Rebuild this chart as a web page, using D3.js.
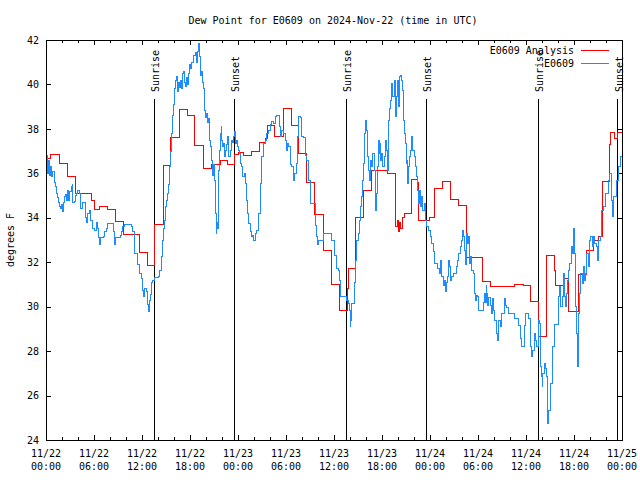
<!DOCTYPE html>
<html><head><meta charset="utf-8">
<script src="https://cdn.jsdelivr.net/npm/d3@7"></script>
<style>
body{margin:0;background:#fff}
svg{display:block}
text{font-family:"DejaVu Sans Mono",monospace;font-size:10px;fill:#000}
</style>
</head><body>
<svg id="chart" width="640" height="480"></svg>
<script>
// ---------------- data ----------------
const chartTitle = "Dew Point for E0609 on 2024-Nov-22 (time in UTC)";
const yAxisLabel = "degrees F";
const seriesNames = ["E0609 Analysis", "E0609"];
const seriesColors = ["#ff0000", "#1e8cff"];
const startUTC = Date.UTC(2024, 10, 22, 0, 0);
const endUTC = Date.UTC(2024, 10, 25, 0, 0);
const yTickValues = [24, 26, 28, 30, 32, 34, 36, 38, 40, 42];
// [label, hours after start]
const sunEvents = [["Sunrise", 13.55], ["Sunset", 23.55], ["Sunrise", 37.56], ["Sunset", 47.54], ["Sunrise", 61.56], ["Sunset", 71.47]];

// analysis (hours after start, deg F)
const analysis = [[0,36.68],[0.62,36.86],[1.67,36.45],[2.7,35.88],[3.67,35.1],[5.7,34.76],[6.04,34.38],[6.67,34.5],[7.7,34.38],[8.67,33.83],[9.7,33.23],[11.67,32.46],[12.7,31.86],[13.6,33.7],[14.67,36.36],[15.5,37.62],[16.67,38.88],[17.7,38.6],[18.55,37.26],[19.7,36.23],[20.7,36.39],[21.75,36.6],[22.7,36.39],[23.6,36.85],[24.05,36.93],[24.67,36.8],[25.7,37.0],[26.67,37.39],[27.4,37.55],[27.67,38.16],[28.6,37.67],[29.67,38.93],[30.7,38.15],[31.6,36.9],[32.6,35.6],[33.6,34.17],[34.67,32.55],[35.7,30.98],[36.63,29.85],[37.67,30.83],[37.75,31.73],[38.7,34.0],[39.67,35.25],[40.67,36.15],[42.67,36.0],[43.7,33.63],[43.9,33.9],[44.05,33.4],[44.2,33.8],[44.35,33.5],[44.5,34.0],[44.75,34.2],[45.7,35.73],[46.4,35.6],[46.6,33.9],[47.9,34.0],[48.5,35.33],[49.55,35.62],[50.6,34.83],[51.6,34.55],[52.55,32.2],[54.55,31.15],[55.6,30.93],[58.55,31.0],[59.67,30.97],[60.6,30.25],[61.52,28.68],[62.6,32.3],[63.55,31.65],[63.65,30.97],[64.75,31.28],[65.3,29.8],[66.55,31.43],[67.5,32.52],[68.4,33.0],[69.0,33.15],[69.55,35.63],[70.4,37.3],[70.55,37.83],[71.1,37.58],[71.45,37.83],[72,37.83]];

// observations, one array per day (hours after start, deg F)
const obsDay1 = [[0,36.4],[0.08,36.8],[0.21,36.0],[0.33,36.6],[0.46,35.9],[0.58,36.3],[0.71,35.85],[0.83,36.1],[1.0,35.6],[1.17,35.4],[1.33,35.1],[1.46,34.9],[1.58,34.7],[1.71,34.5],[1.83,34.4],[1.96,34.6],[2.08,34.3],[2.21,34.7],[2.33,34.95],[2.46,35.05],[2.58,34.8],[2.71,35.25],[2.83,34.8],[2.96,35.2],[3.13,35.4],[3.25,35.5],[3.33,34.7],[3.5,34.75],[3.67,35.0],[3.83,35.1],[3.96,35.25],[4.17,35.1],[4.33,34.4],[4.5,34.7],[4.75,34.7],[4.92,34.0],[5.04,33.8],[5.21,34.2],[5.42,34.35],[5.58,33.9],[5.75,33.5],[6.08,33.45],[6.25,33.8],[6.42,33.5],[6.58,33.1],[6.67,32.8],[6.79,33.1],[7.17,33.15],[7.29,33.4],[7.5,33.5],[7.67,33.75],[8.33,33.75],[8.46,33.4],[8.54,32.8],[8.67,33.1],[9.25,33.2],[9.42,33.4],[9.58,33.6],[9.75,33.7],[10.67,33.6],[10.83,33.4],[11.0,32.4],[11.42,31.9],[11.67,31.5],[11.92,31.25],[12.08,30.75],[12.17,30.45],[12.25,30.8],[12.5,30.7],[12.71,30.1],[12.79,29.8],[12.92,30.3],[13.04,30.55],[13.17,31.1],[13.33,31.2],[13.54,31.3],[14.08,31.35],[14.17,31.65],[14.38,32.25],[14.5,32.7],[14.58,33.0],[14.71,33.5],[14.79,33.9],[14.92,34.5],[15.0,34.8],[15.13,35.1],[15.25,35.5],[15.38,36.3],[15.5,37.0],[15.63,37.8],[15.75,38.6],[15.88,39.1],[16.0,39.8],[16.13,40.2],[16.25,40.35],[16.38,39.7],[16.5,40.1],[16.63,39.85],[16.75,40.2],[16.88,39.8],[17.0,40.5],[17.13,40.6],[17.25,40.1],[17.38,39.9],[17.5,40.3],[17.63,40.0],[17.75,40.5],[17.88,40.9],[18.0,40.7],[18.21,41.0],[18.42,41.3],[18.63,41.45],[18.83,41.0],[18.92,41.5],[19.04,41.85],[19.17,41.25],[19.25,40.4],[19.38,40.6],[19.5,40.1],[19.67,39.8],[19.79,38.85],[19.92,38.5],[20.08,38.7],[20.21,38.3],[20.33,38.45],[20.42,37.5],[20.58,37.2],[20.71,36.6],[20.83,35.9],[20.92,36.4],[21.04,35.7],[21.17,34.2],[21.25,33.3],[21.33,33.8],[21.42,33.5],[21.54,36.15],[21.67,37.05],[21.75,37.8],[21.88,38.1],[21.96,37.5],[22.08,37.2],[22.21,37.35],[22.33,36.75],[22.46,37.05],[22.58,37.3],[22.71,37.65],[22.83,36.75],[23.0,37.05],[23.13,37.5],[23.25,37.4],[23.42,37.65],[23.54,37.9],[23.63,37.35],[23.75,37.5],[23.92,37.2]];
const obsDay2 = [[24.04,37.05],[24.17,36.9],[24.25,36.8],[24.33,36.45],[24.46,36.3],[24.58,35.85],[24.75,36.0],[24.88,35.55],[25.08,34.8],[25.21,34.2],[25.33,33.75],[25.5,33.4],[25.71,33.15],[25.83,33.2],[25.92,33.0],[26.13,33.3],[26.33,33.45],[26.54,34.2],[26.75,35.55],[26.96,36.75],[27.17,37.35],[27.38,37.5],[27.58,37.8],[27.79,37.95],[28.0,38.2],[28.21,38.35],[28.42,38.25],[28.63,38.55],[28.83,38.6],[29.08,38.6],[29.17,38.1],[29.33,37.65],[29.46,37.95],[29.67,37.8],[29.88,37.5],[30.0,37.05],[30.17,37.35],[30.33,37.2],[30.5,36.4],[30.71,36.3],[30.92,35.7],[31.04,36.0],[31.25,36.45],[31.42,37.65],[31.54,38.55],[31.75,38.5],[31.88,37.65],[32.17,37.6],[32.42,36.8],[32.58,36.6],[32.79,35.7],[33.0,34.65],[33.42,34.65],[33.63,33.65],[33.83,33.15],[33.96,32.8],[34.08,33.0],[34.58,33.0],[34.67,33.3],[35.58,33.3],[35.71,33.0],[36.0,32.5],[36.1,32.3],[36.33,31.7],[36.5,31.65],[36.67,31.2],[36.8,30.45],[37.6,30.3],[37.75,30.15],[37.9,29.85],[38.0,29.1],[38.08,29.4],[38.2,30.15],[38.5,30.15],[38.6,31.1],[38.7,32.1],[38.83,33.0],[39.0,33.3],[39.13,33.9],[39.25,34.5],[39.42,34.95],[39.54,35.7],[39.67,36.45],[39.83,37.8],[39.96,38.4],[40.04,37.95],[40.17,36.75],[40.29,36.15],[40.42,35.7],[40.5,36.1],[40.58,36.6],[40.71,36.3],[40.83,36.9],[41.0,36.15],[41.13,35.7],[41.21,34.35],[41.29,35.1],[41.42,36.3],[41.54,37.5],[41.63,36.9],[41.75,37.35],[41.83,36.6],[41.96,36.9],[42.08,36.3],[42.25,36.75],[42.38,37.5],[42.5,37.05],[42.67,36.15],[42.79,38.4],[42.92,38.9],[43.08,39.3],[43.21,40.05],[43.33,39.45],[43.5,40.2],[43.63,38.55],[43.75,39.45],[43.92,40.2],[44.04,39.0],[44.17,40.35],[44.29,40.4],[44.42,40.2],[44.54,39.75],[44.67,38.4],[44.75,37.8],[44.88,37.35],[45.0,36.45],[45.08,36.6],[45.17,35.55],[45.29,36.3],[45.42,36.75],[45.58,37.05],[45.71,37.65],[45.83,37.05],[46.0,36.75],[46.13,36.3],[46.25,35.85],[46.42,35.25],[46.54,34.65],[46.67,35.25],[46.83,34.5],[46.96,34.95],[47.08,34.35],[47.25,34.65],[47.38,33.9],[47.5,33.6],[47.79,33.45]];
const obsDay3 = [[48.0,33.15],[48.2,32.85],[48.42,32.5],[48.6,31.95],[48.92,31.7],[49.17,31.5],[49.25,31.8],[49.33,32.1],[49.46,31.35],[49.67,30.97],[49.79,31.2],[49.88,30.67],[50.0,31.1],[50.17,31.35],[50.29,32.1],[50.42,31.8],[50.5,31.2],[50.71,31.35],[50.92,31.5],[51.25,31.8],[51.42,32.1],[51.58,32.4],[51.75,32.7],[51.96,33.0],[52.04,33.45],[52.17,33.15],[52.29,32.55],[52.42,31.9],[52.58,33.3],[52.71,32.85],[52.83,33.15],[52.96,31.95],[53.08,32.25],[53.21,31.65],[53.42,31.5],[53.54,30.6],[53.67,30.3],[53.83,30.5],[53.96,30.45],[54.08,29.85],[54.4,29.85],[54.67,30.2],[54.79,30.6],[54.92,30.2],[55.0,30.97],[55.08,30.6],[55.21,30.07],[55.33,30.4],[55.5,30.07],[55.63,29.7],[55.75,30.37],[55.92,29.85],[56.08,29.4],[56.25,28.8],[56.38,28.5],[56.5,29.0],[56.58,29.4],[56.75,29.1],[56.92,29.7],[57.25,30.37],[57.42,30.07],[57.58,29.97],[57.75,29.7],[58.4,29.7],[58.6,29.47],[59.04,29.17],[59.25,28.57],[59.42,28.2],[59.58,28.2],[59.75,29.17],[59.92,29.7],[60.29,29.47],[60.5,28.2],[60.71,27.75],[60.83,28.05],[61.0,28.8],[61.17,28.5],[61.33,28.2],[61.5,29.4],[61.63,29.25],[61.75,27.3],[61.88,26.85],[62.0,26.4],[62.08,27.0],[62.25,27.45],[62.38,27.2],[62.5,26.85],[62.63,25.8],[62.71,24.75],[62.83,25.35],[63.0,26.55],[63.17,26.55],[63.29,28.2],[63.58,29.2],[64.0,30.45],[64.17,30.9],[64.33,30.0],[64.5,30.45],[64.63,31.5],[64.75,30.45],[64.92,30.0],[65.04,30.6],[65.17,31.2],[65.33,31.65],[65.46,31.95],[65.67,32.7],[65.79,32.4],[65.92,33.5],[66.08,32.4],[66.21,30.0],[66.33,28.8],[66.42,27.3],[66.5,29.7],[66.63,30.6],[66.75,31.2],[66.83,31.5],[67.0,31.05],[67.17,31.8],[67.33,31.2],[67.46,31.5],[67.58,32.4],[67.75,31.8],[67.96,33.0],[68.08,33.15],[68.25,32.7],[68.38,33.15],[68.58,32.85],[68.79,32.7],[68.92,32.1],[69.08,33.0],[69.33,33.15],[69.42,34.35],[69.63,34.5],[69.92,35.1],[70.25,35.7],[70.46,36.0],[70.67,34.8],[70.79,34.05],[70.88,34.95],[71.08,34.95],[71.29,35.7],[71.5,36.3],[71.83,36.75],[72,36.75]];
const observed = obsDay1.concat(obsDay2, obsDay3);

// ---------------- drawing ----------------
const svg = d3.select("#chart");
const W = 640, H = 480;
const m = {left: 46, right: 18, top: 40, bottom: 40};
const x0 = m.left, x1 = W - m.right, y0 = m.top, y1 = H - m.bottom;
const toDate = h => new Date(startUTC + h * 3600e3);

const x = d3.scaleUtc().domain([new Date(startUTC), new Date(endUTC)]).range([x0, x1]);
const y = d3.scaleLinear().domain([24, 42]).range([y1, y0]);

svg.append("rect").attr("width", W).attr("height", H).attr("fill", "#fff");

// title
svg.append("text").attr("x", 333).attr("y", 24).attr("text-anchor", "middle").text(chartTitle);

// y label
svg.append("text").attr("transform", "translate(14,240) rotate(-90)")
  .attr("text-anchor", "middle").text(yAxisLabel);

const majorTicks = x.ticks(d3.utcHour.every(6));
const minorTicks = x.ticks(d3.utcHour.every(2));

function xAxis(g, axisGen, ty) {
  g.attr("transform", `translate(0,${ty})`).call(axisGen);
  g.select(".domain").remove();
  g.selectAll("line").attr("stroke", "#000").attr("shape-rendering", "crispEdges");
}
// bottom minor + major (ticks pointing inward)
svg.append("g").call(g => xAxis(g, d3.axisBottom(x).tickValues(minorTicks).tickSize(-3).tickFormat(""), y1));
svg.append("g").call(g => xAxis(g, d3.axisBottom(x).tickValues(majorTicks).tickSize(-5).tickFormat(""), y1));
svg.append("g").call(g => xAxis(g, d3.axisTop(x).tickValues(minorTicks).tickSize(-3).tickFormat(""), y0));
svg.append("g").call(g => xAxis(g, d3.axisTop(x).tickValues(majorTicks).tickSize(-5).tickFormat(""), y0));

// x tick labels (two lines)
const fmtDate = d3.utcFormat("%m/%d"), fmtTime = d3.utcFormat("%H:%M");
const xl = svg.append("g").selectAll("text").data(majorTicks).join("text")
  .attr("text-anchor", "middle");
xl.append("tspan").attr("x", d => x(d)).attr("y", 457).text(fmtDate);
xl.append("tspan").attr("x", d => x(d)).attr("y", 470).text(fmtTime);

// y axes
const gl = svg.append("g").attr("transform", `translate(${x0},0)`)
  .call(d3.axisLeft(y).tickValues(yTickValues).tickSize(-5).tickPadding(7).tickFormat(d3.format("d")));
gl.select(".domain").remove();
gl.selectAll("line").attr("stroke", "#000").attr("shape-rendering", "crispEdges");
gl.selectAll("text").attr("font-family", null).attr("font-size", null).attr("fill", "#000");
const gr = svg.append("g").attr("transform", `translate(${x1},0)`)
  .call(d3.axisRight(y).tickValues(yTickValues).tickSize(-5).tickFormat(""));
gr.select(".domain").remove();
gr.selectAll("line").attr("stroke", "#000").attr("shape-rendering", "crispEdges");

// sunrise / sunset markers
const sg = svg.append("g");
sg.selectAll("line").data(sunEvents).join("line")
  .attr("x1", d => x(toDate(d[1]))).attr("x2", d => x(toDate(d[1])))
  .attr("y1", 99).attr("y2", y1)
  .attr("stroke", "#000").attr("stroke-width", 1).attr("shape-rendering", "crispEdges");
sg.selectAll("text").data(sunEvents).join("text")
  .attr("transform", d => `translate(${x(toDate(d[1])) + 5},92) rotate(-90)`)
  .attr("text-anchor", "start").text(d => d[0]);

// lines
const line = d3.line().curve(d3.curveStepAfter)
  .x(d => x(toDate(d[0]))).y(d => y(d[1]));
svg.append("path").datum(analysis).attr("d", line)
  .attr("fill", "none").attr("stroke", seriesColors[0]).attr("stroke-width", 1)
  .attr("shape-rendering", "crispEdges");
svg.append("path").datum(observed).attr("d", line)
  .attr("fill", "none").attr("stroke", seriesColors[1]).attr("stroke-width", 1)
  .attr("shape-rendering", "crispEdges");

// border
svg.append("rect").attr("x", x0).attr("y", y0).attr("width", x1 - x0).attr("height", y1 - y0)
  .attr("fill", "none").attr("stroke", "#000").attr("shape-rendering", "crispEdges");

// legend
const lg = svg.append("g");
seriesNames.forEach((name, i) => {
  const ly = 50 + i * 13;
  lg.append("text").attr("x", 574).attr("y", ly + 4).attr("text-anchor", "end").text(name);
  lg.append("line").attr("x1", 581).attr("x2", 609).attr("y1", ly).attr("y2", ly)
    .attr("stroke", seriesColors[i]).attr("shape-rendering", "crispEdges");
});
</script>
</body></html>
